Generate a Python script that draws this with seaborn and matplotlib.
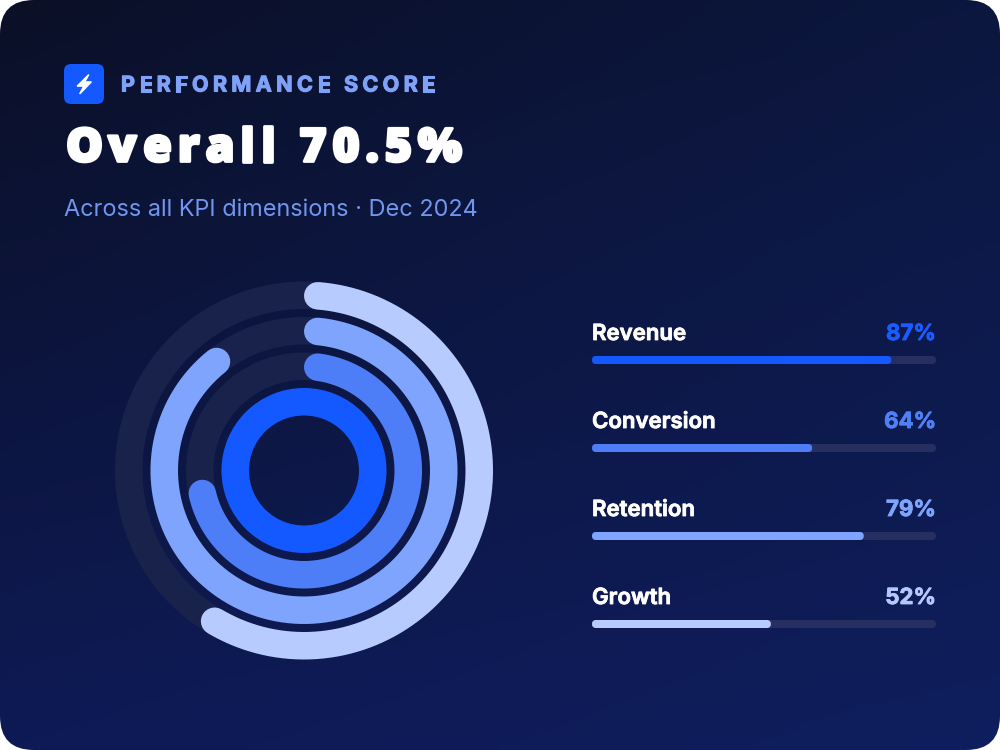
import numpy as np
import matplotlib
matplotlib.use("Agg")
import matplotlib.pyplot as plt
import matplotlib.patheffects as pe
import seaborn as sns
from matplotlib.patches import FancyBboxPatch, Polygon

sns.set_theme(style="white")
plt.rcParams['font.family'] = ['Inter', 'DejaVu Sans']

# Data
metrics = ['Revenue', 'Conversion', 'Retention', 'Growth']
scores = [87, 64, 79, 52]
overall = 70.5
colors = ['#1458ff', '#4d7ef8', '#7fa4fd', '#b8cbfe']
pct_colors = ['#1a5cff', '#4f80f6', '#7fa4fb', '#b5c8fb']
track_ring = '#19224a'
track_bar = '#262f60'

fig = plt.figure(figsize=(10, 7.5), dpi=100)
fig.patch.set_facecolor('white')

# Background card with diagonal gradient (pixel coordinates)
ax_bg = fig.add_axes([0, 0, 1, 1])
ax_bg.set_xlim(0, 1000)
ax_bg.set_ylim(750, 0)
ax_bg.axis('off')
tl = np.array([11, 16, 39]) / 255
tr = np.array([12, 23, 63]) / 255
bl = np.array([14, 26, 85]) / 255
br = np.array([15, 30, 94]) / 255
u = np.linspace(0, 1, 200)[None, :, None]
v = np.linspace(0, 1, 150)[:, None, None]
grad = tl * (1 - u) * (1 - v) + tr * u * (1 - v) + bl * (1 - u) * v + br * u * v
img = ax_bg.imshow(grad, extent=[0, 1000, 750, 0], aspect='auto', zorder=0)
card = FancyBboxPatch((0, 0), 1000, 750, boxstyle='round,pad=0,rounding_size=34',
                      fc='none', ec='none', transform=ax_bg.transData)
ax_bg.add_patch(card)
img.set_clip_path(card)

# Header icon
ax_bg.add_patch(FancyBboxPatch((64, 64), 40, 40, boxstyle='round,pad=0,rounding_size=7',
                               fc='#1458ff', ec='none', zorder=2))
bolt = [(88.5, 75), (77.5, 86), (84, 86), (80, 93.5), (91, 82), (84.5, 82)]
ax_bg.add_patch(Polygon(bolt, closed=True, fc='white', ec='white', lw=1.2,
                        joinstyle='round', zorder=3))

renderer = fig.canvas.get_renderer()


def text_width(s, kw):
    t = ax_bg.text(0, 0, s + 'X', **kw)
    t2 = ax_bg.text(0, 0, 'X', **kw)
    w = t.get_window_extent(renderer).width - t2.get_window_extent(renderer).width
    t.remove()
    t2.remove()
    return w


def spaced_text(x, y, s, target, kw):
    # place characters one by one so the string spans the target width
    spacing = (target - text_width(s, kw)) / (len(s) - 1)
    for i, ch in enumerate(s):
        if ch != ' ':
            ax_bg.text(x + text_width(s[:i], kw) + i * spacing, y, ch, **kw)


kicker_kw = dict(fontsize=15.5, fontweight='bold', color='#7fa2f8', va='baseline',
                 path_effects=[pe.withStroke(linewidth=0.8, foreground='#7fa2f8')])
spaced_text(121, 91.5, 'PERFORMANCE SCORE', 314, kicker_kw)

title_kw = dict(fontsize=33.5, fontweight='heavy', color='white', va='baseline',
                family=['Open Sans', 'Inter', 'DejaVu Sans'],
                path_effects=[pe.withStroke(linewidth=2.0, foreground='white')])
spaced_text(66, 161.5, f'Overall {overall}%', 396, title_kw)

ax_bg.text(64, 215.5, 'Across all KPI dimensions \u00b7 Dec 2024', fontsize=16.9,
           color='#7196f0', va='baseline')

# Radial bars
cx, cy, rmax = 304, 470.5, 200
ax_p = fig.add_axes([(cx - rmax) / 1000, (750 - cy - rmax) / 750, 2 * rmax / 1000, 2 * rmax / 750],
                    projection='polar')
ax_p.set_theta_zero_location('N')
ax_p.set_theta_direction(-1)
ax_p.set_ylim(0, rmax)
ax_p.axis('off')
ax_p.patch.set_alpha(0)

ring_w = 27.5
ring_in = [55, 90.5, 126, 161.5]
vmax = max(scores)
for r_in, val, col in zip(ring_in, scores, colors):
    frac = val / vmax
    ax_p.bar(np.pi, ring_w, width=2 * np.pi, bottom=r_in, color=track_ring, lw=0)
    if frac >= 1:
        ax_p.bar(np.pi, ring_w, width=2 * np.pi, bottom=r_in, color=col, lw=0)
        continue
    rc = r_in + ring_w / 2
    cap = (ring_w / 2) / rc
    th = np.linspace(cap, frac * 2 * np.pi - cap, 400)
    ax_p.plot(th, np.full_like(th, rc), color=col, lw=ring_w * 0.72,
              solid_capstyle='round')

# Progress bars on the right
row_h = 88
bar_h = 8 / row_h
ax_b = fig.add_axes([592 / 1000, (750 - 668) / 750, 344 / 1000, 352 / 750])
sns.barplot(x=[100] * len(metrics), y=metrics, color=track_bar, width=bar_h,
            saturation=1, ax=ax_b)
sns.barplot(x=scores, y=metrics, hue=metrics, palette=colors, width=bar_h,
            saturation=1, legend=False, ax=ax_b)
ax_b.set_xlim(0, 100)
ax_b.set_ylim(3.5, -0.5)
ax_b.axis('off')
ax_b.patch.set_alpha(0)

rx = 4 / 3.44
aspect = 3.44 / row_h
for p in list(ax_b.patches):
    x, y, w, h = p.get_x(), p.get_y(), p.get_width(), p.get_height()
    fc = p.get_facecolor()
    p.remove()
    ax_b.add_patch(FancyBboxPatch((x, y), w, h, boxstyle=f'round,pad=0,rounding_size={rx}',
                                  mutation_aspect=aspect, fc=fc, ec='none'))

for i, (name, val) in enumerate(zip(metrics, scores)):
    ax_b.text(0, i - 20 / row_h, name, fontsize=16, fontweight='semibold',
              color='white', va='baseline', ha='left',
              path_effects=[pe.withStroke(linewidth=0.6, foreground='white')])
    ax_b.text(100, i - 20 / row_h, f'{val}%', fontsize=16, fontweight='bold',
              color=pct_colors[i], va='baseline', ha='right',
              path_effects=[pe.withStroke(linewidth=0.6, foreground=pct_colors[i])])

plt.savefig('out.png', dpi=100, facecolor='white')
